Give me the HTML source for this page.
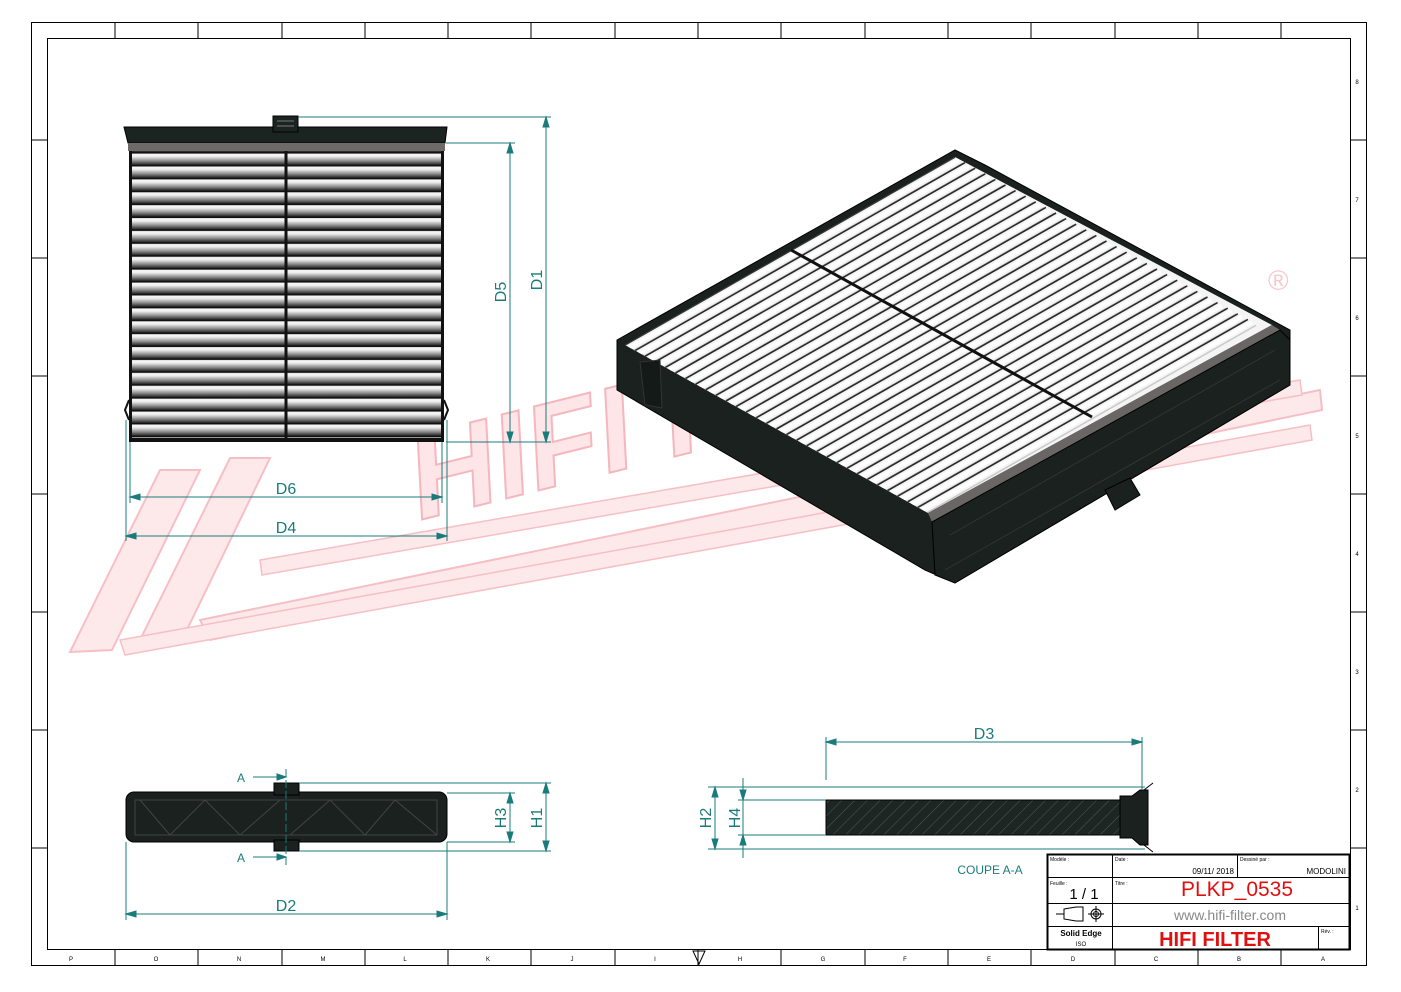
<!DOCTYPE html>
<html><head><meta charset="utf-8"><style>
html,body{margin:0;padding:0;background:#fff}
svg{display:block}
text{font-family:"Liberation Sans",sans-serif}
</style></head><body>
<svg width="1401" height="992" viewBox="0 0 1401 992" xmlns="http://www.w3.org/2000/svg">
<defs>
<linearGradient id="pl" x1="0" y1="0" x2="0" y2="1">
<stop offset="0" stop-color="#fff"/><stop offset="0.35" stop-color="#eee"/><stop offset="0.7" stop-color="#888"/><stop offset="1" stop-color="#222"/>
</linearGradient>
<pattern id="pleats" x="0" y="152" width="10" height="12.9" patternUnits="userSpaceOnUse">
<rect width="10" height="12.9" fill="url(#pl)"/><rect y="0" width="10" height="1.6" fill="#111"/>
</pattern>
<pattern id="hatch" width="9" height="9" patternUnits="userSpaceOnUse" patternTransform="rotate(45)">
<rect width="9" height="9" fill="#1e2623"/><line x1="0" y1="0" x2="0" y2="9" stroke="#555" stroke-width="1"/>
</pattern>
<g id="pleat">
<line x1="625" y1="345" x2="955" y2="157" stroke="#2a2a2a" stroke-width="1.6"/>
<line x1="629" y1="348" x2="959" y2="160" stroke="#fff" stroke-width="4"/>
<line x1="633" y1="351" x2="963" y2="163" stroke="#c9c9c9" stroke-width="1.5"/>
</g>
<clipPath id="pc"><polygon points="625,345 955,157 1272,325 928,513"/></clipPath>
</defs>
<rect width="1401" height="992" fill="#fff"/>

<!-- watermark -->
<g opacity="0.9">
<polygon points="70,652 160,470 200,470 112,650" fill="#fde6e8" stroke="#f6b9c0" stroke-width="2"/>
<polygon points="140,640 230,458 270,458 182,640" fill="#fde6e8" stroke="#f6b9c0" stroke-width="2"/>
<polygon points="200,620 1320,390 1322,410 210,640" fill="#fde6e8" stroke="#f6b9c0" stroke-width="2"/>
<polygon points="120,640 1310,425 1312,440 125,655" fill="#fde6e8" stroke="#f6b9c0" stroke-width="1.5"/>
<polygon points="260,560 1300,380 1302,395 262,575" fill="#fde6e8" stroke="#f6b9c0" stroke-width="1.5"/>
<text x="420" y="520" transform="rotate(-14 420 520)" font-size="120" font-weight="bold" font-style="italic" fill="#fde3e6" stroke="#f4b0b8" stroke-width="2">HIFI FILTER</text>
<text x="1268" y="290" font-size="28" fill="#f6c3c9">®</text>
</g>

<!-- border -->
<rect x="31.5" y="22.5" width="1335" height="943" fill="none" stroke="#000" stroke-width="1"/>
<rect x="47.5" y="38.5" width="1303" height="911" fill="none" stroke="#000" stroke-width="1"/>
<g stroke="#000" stroke-width="1">
<line x1="115" y1="22" x2="115" y2="38"/><line x1="198" y1="22" x2="198" y2="38"/><line x1="282" y1="22" x2="282" y2="38"/><line x1="365" y1="22" x2="365" y2="38"/><line x1="448" y1="22" x2="448" y2="38"/><line x1="531" y1="22" x2="531" y2="38"/><line x1="615" y1="22" x2="615" y2="38"/><line x1="698" y1="22" x2="698" y2="38"/><line x1="781" y1="22" x2="781" y2="38"/><line x1="865" y1="22" x2="865" y2="38"/><line x1="948" y1="22" x2="948" y2="38"/><line x1="1031" y1="22" x2="1031" y2="38"/><line x1="1115" y1="22" x2="1115" y2="38"/><line x1="1198" y1="22" x2="1198" y2="38"/><line x1="1281" y1="22" x2="1281" y2="38"/>
<line x1="115" y1="950" x2="115" y2="966"/><line x1="198" y1="950" x2="198" y2="966"/><line x1="282" y1="950" x2="282" y2="966"/><line x1="365" y1="950" x2="365" y2="966"/><line x1="448" y1="950" x2="448" y2="966"/><line x1="531" y1="950" x2="531" y2="966"/><line x1="615" y1="950" x2="615" y2="966"/><line x1="698" y1="950" x2="698" y2="966"/><line x1="781" y1="950" x2="781" y2="966"/><line x1="865" y1="950" x2="865" y2="966"/><line x1="948" y1="950" x2="948" y2="966"/><line x1="1031" y1="950" x2="1031" y2="966"/><line x1="1115" y1="950" x2="1115" y2="966"/><line x1="1198" y1="950" x2="1198" y2="966"/><line x1="1281" y1="950" x2="1281" y2="966"/>
<line x1="31" y1="140" x2="47" y2="140"/><line x1="31" y1="258" x2="47" y2="258"/><line x1="31" y1="376" x2="47" y2="376"/><line x1="31" y1="494" x2="47" y2="494"/><line x1="31" y1="612" x2="47" y2="612"/><line x1="31" y1="730" x2="47" y2="730"/><line x1="31" y1="848" x2="47" y2="848"/>
<line x1="1351" y1="140" x2="1367" y2="140"/><line x1="1351" y1="258" x2="1367" y2="258"/><line x1="1351" y1="376" x2="1367" y2="376"/><line x1="1351" y1="494" x2="1367" y2="494"/><line x1="1351" y1="612" x2="1367" y2="612"/><line x1="1351" y1="730" x2="1367" y2="730"/><line x1="1351" y1="848" x2="1367" y2="848"/>
</g>
<g font-size="6" fill="#000" text-anchor="middle">
<text x="71" y="961">P</text><text x="156" y="961">O</text><text x="239" y="961">N</text><text x="323" y="961">M</text><text x="405" y="961">L</text><text x="488" y="961">K</text><text x="572" y="961">J</text><text x="655" y="961">I</text><text x="740" y="961">H</text><text x="823" y="961">G</text><text x="905" y="961">F</text><text x="989" y="961">E</text><text x="1073" y="961">D</text><text x="1156" y="961">C</text><text x="1239" y="961">B</text><text x="1323" y="961">A</text>
<text x="1357" y="84">8</text><text x="1357" y="202">7</text><text x="1357" y="320">6</text><text x="1357" y="438">5</text><text x="1357" y="556">4</text><text x="1357" y="674">3</text><text x="1357" y="792">2</text><text x="1357" y="910">1</text>
</g>
<polygon points="693,951 705,951 699,964" fill="none" stroke="#000"/>

<!-- top view -->
<rect x="129" y="150" width="315" height="292" fill="url(#pleats)"/>
<rect x="129" y="150" width="3" height="292" fill="#111"/><rect x="441" y="150" width="3" height="292" fill="#111"/>
<rect x="284.5" y="150" width="3" height="292" fill="#111"/>
<rect x="129" y="438" width="315" height="4" fill="#111"/>
<path d="M124,127 L447,127 L445,143 L128,143 Z" fill="#1c2421" stroke="#000"/>
<rect x="128" y="143" width="317" height="8" fill="#6e6a6a"/>
<rect x="273" y="116" width="25" height="16" fill="#1c2421" stroke="#000"/>
<line x1="277" y1="121" x2="294" y2="121" stroke="#777"/><line x1="277" y1="126" x2="294" y2="126" stroke="#777"/>
<path d="M129,400 L125,410 L129,420 M444,400 L448,410 L444,420" stroke="#111" fill="none" stroke-width="2"/>

<!-- dims top view -->
<g stroke="#1b7b7b" stroke-width="1" fill="#1b7b7b">
<line x1="298" y1="117" x2="551" y2="117"/><line x1="446" y1="143" x2="515" y2="143"/><line x1="446" y1="442" x2="551" y2="442"/>
<line x1="546" y1="117" x2="546" y2="442"/><line x1="510" y1="143" x2="510" y2="442"/>
<polygon points="546,117 543,127 549,127"/><polygon points="546,442 543,432 549,432"/>
<polygon points="510,143 507,153 513,153"/><polygon points="510,442 507,432 513,432"/>
<line x1="126" y1="420" x2="126" y2="541"/><line x1="130" y1="442" x2="130" y2="503"/><line x1="442" y1="442" x2="442" y2="503"/><line x1="447" y1="420" x2="447" y2="541"/>
<line x1="130" y1="497" x2="442" y2="497"/><line x1="126" y1="536" x2="447" y2="536"/>
<polygon points="130,497 140,494 140,500"/><polygon points="442,497 432,494 432,500"/>
<polygon points="126,536 136,533 136,539"/><polygon points="447,536 437,533 437,539"/>
</g>
<g fill="#1b7b7b" font-size="16">
<text x="286" y="494" text-anchor="middle">D6</text><text x="286" y="533" text-anchor="middle">D4</text>
<text transform="translate(506,292) rotate(-90)" text-anchor="middle">D5</text>
<text transform="translate(542,280) rotate(-90)" text-anchor="middle">D1</text>
</g>

<!-- iso view -->
<polygon points="617,340 955,150 985,165 1290,330 1290,385 955,583 925,570 617,390" fill="#1a211f" stroke="#000"/>
<polygon points="625,345 955,157 1272,325 928,513" fill="#f4f4f4"/>
<g clip-path="url(#pc)">
<use href="#pleat"/>
<use href="#pleat" transform="translate(10.1,5.6)"/><use href="#pleat" transform="translate(20.2,11.2)"/><use href="#pleat" transform="translate(30.3,16.8)"/><use href="#pleat" transform="translate(40.4,22.4)"/><use href="#pleat" transform="translate(50.5,28)"/><use href="#pleat" transform="translate(60.6,33.6)"/><use href="#pleat" transform="translate(70.7,39.2)"/><use href="#pleat" transform="translate(80.8,44.8)"/><use href="#pleat" transform="translate(90.9,50.4)"/><use href="#pleat" transform="translate(101,56)"/><use href="#pleat" transform="translate(111.1,61.6)"/><use href="#pleat" transform="translate(121.2,67.2)"/><use href="#pleat" transform="translate(131.3,72.8)"/><use href="#pleat" transform="translate(141.4,78.4)"/><use href="#pleat" transform="translate(151.5,84)"/><use href="#pleat" transform="translate(161.6,89.6)"/><use href="#pleat" transform="translate(171.7,95.2)"/><use href="#pleat" transform="translate(181.8,100.8)"/><use href="#pleat" transform="translate(191.9,106.4)"/><use href="#pleat" transform="translate(202,112)"/><use href="#pleat" transform="translate(212.1,117.6)"/><use href="#pleat" transform="translate(222.2,123.2)"/><use href="#pleat" transform="translate(232.3,128.8)"/><use href="#pleat" transform="translate(242.4,134.4)"/><use href="#pleat" transform="translate(252.5,140)"/><use href="#pleat" transform="translate(262.6,145.6)"/><use href="#pleat" transform="translate(272.7,151.2)"/><use href="#pleat" transform="translate(282.8,156.8)"/><use href="#pleat" transform="translate(292.9,162.4)"/>
</g>
<line x1="791" y1="250" x2="1092" y2="417" stroke="#111" stroke-width="3"/>
<polygon points="928,513 1272,325 1280,330 932,522" fill="#6a6666"/>
<polygon points="932,522 1280,330 1290,340 1290,385 955,583 935,575" fill="#1a211f" stroke="#000"/>
<path d="M945,570 L1280,380 M950,535 L1275,350" stroke="#333" fill="none"/>
<polygon points="1105,490 1130,478 1140,495 1115,510" fill="#1a211f" stroke="#000"/>
<polygon points="640,362 660,360 662,408 645,405" fill="#141a18" stroke="#333"/>

<!-- side view -->
<rect x="126" y="792" width="321" height="50" rx="8" fill="#1a211f" stroke="#000"/>
<path d="M135,800 L437,800 L437,835 L135,835 Z" fill="none" stroke="#444"/>
<path d="M140,800 L170,835 L205,800 L240,835 L280,800 M290,835 L330,800 L365,835 L395,800 L437,835" stroke="#444" fill="none"/>
<rect x="274" y="783" width="25" height="12" fill="#1a211f" stroke="#000"/>
<rect x="274" y="840" width="25" height="11" fill="#1a211f" stroke="#000"/>
<g stroke="#1b7b7b" fill="#1b7b7b">
<line x1="286" y1="769" x2="286" y2="865" stroke-dasharray="8,3"/>
<line x1="253" y1="777" x2="286" y2="777"/><polygon points="286,777 277,774 277,780"/>
<line x1="253" y1="857" x2="286" y2="857"/><polygon points="286,857 277,854 277,860"/>
<line x1="299" y1="783" x2="551" y2="783"/><line x1="447" y1="793" x2="515" y2="793"/><line x1="447" y1="842" x2="515" y2="842"/><line x1="299" y1="851" x2="551" y2="851"/>
<line x1="510" y1="793" x2="510" y2="842"/><polygon points="510,793 507,803 513,803"/><polygon points="510,842 507,832 513,832"/>
<line x1="546" y1="783" x2="546" y2="851"/><polygon points="546,783 543,793 549,793"/><polygon points="546,851 543,841 549,841"/>
<line x1="126" y1="842" x2="126" y2="920"/><line x1="447" y1="842" x2="447" y2="920"/>
<line x1="126" y1="914" x2="447" y2="914"/><polygon points="126,914 136,911 136,917"/><polygon points="447,914 437,911 437,917"/>
</g>
<g fill="#1b7b7b" font-size="16">
<text x="241" y="782" font-size="12" text-anchor="middle">A</text><text x="241" y="862" font-size="12" text-anchor="middle">A</text>
<text transform="translate(506,818) rotate(-90)" text-anchor="middle">H3</text>
<text transform="translate(542,818) rotate(-90)" text-anchor="middle">H1</text>
<text x="286" y="911" text-anchor="middle">D2</text>
</g>

<!-- section -->
<rect x="826" y="800" width="294" height="35" fill="url(#hatch)" stroke="#000"/>
<path d="M1120,796 L1132,796 L1140,790 L1148,790 L1148,845 L1140,845 L1132,838 L1120,838 Z" fill="#1a211f" stroke="#000"/>
<path d="M1144,790 L1153,783 M1144,845 L1153,852" stroke="#000"/>
<g stroke="#1b7b7b" fill="#1b7b7b">
<line x1="826" y1="737" x2="826" y2="780"/><line x1="1142" y1="737" x2="1142" y2="790"/>
<line x1="826" y1="742" x2="1142" y2="742"/><polygon points="826,742 836,739 836,745"/><polygon points="1142,742 1132,739 1132,745"/>
<line x1="708" y1="787" x2="1145" y2="787"/><line x1="738" y1="800" x2="826" y2="800"/><line x1="738" y1="835" x2="826" y2="835"/><line x1="708" y1="849" x2="1145" y2="849"/>
<line x1="715" y1="787" x2="715" y2="849"/><polygon points="715,787 712,797 718,797"/><polygon points="715,849 712,839 718,839"/>
<line x1="743" y1="778" x2="743" y2="858"/><polygon points="743,800 740,790 746,790"/><polygon points="743,835 740,845 746,845"/>
</g>
<g fill="#1b7b7b" font-size="16">
<text x="984" y="739" text-anchor="middle">D3</text>
<text transform="translate(711,818) rotate(-90)" text-anchor="middle">H2</text>
<text transform="translate(740,818) rotate(-90)" text-anchor="middle">H4</text>
<text x="990" y="874" font-size="12" text-anchor="middle">COUPE A-A</text>
</g>

<!-- title block -->
<rect x="1047.5" y="854.5" width="302" height="95" fill="#fff" stroke="#000" stroke-width="2"/>
<g stroke="#000" stroke-width="1">
<line x1="1047" y1="877.5" x2="1350" y2="877.5"/><line x1="1047" y1="903.5" x2="1350" y2="903.5"/><line x1="1047" y1="926.5" x2="1350" y2="926.5"/>
<line x1="1112.5" y1="854" x2="1112.5" y2="950"/><line x1="1237.5" y1="854" x2="1237.5" y2="877"/><line x1="1318.5" y1="926" x2="1318.5" y2="950"/>
</g>
<g font-size="5" fill="#000">
<text x="1050" y="861">Modèle :</text><text x="1115" y="861">Date :</text><text x="1240" y="861">Dessiné par :</text>
<text x="1050" y="885">Feuille :</text><text x="1115" y="885">Titre :</text><text x="1321" y="933">Rév. :</text>
</g>
<text x="1234" y="874" font-size="8" text-anchor="end">09/11/ 2018</text>
<text x="1346" y="874" font-size="8" text-anchor="end">MODOLINI</text>
<text x="1084" y="899" font-size="15" text-anchor="middle">1 / 1</text>
<text x="1237" y="896" font-size="21" fill="#e01010" text-anchor="middle">PLKP_0535</text>
<text x="1230" y="920" font-size="14" fill="#888" text-anchor="middle">www.hifi-filter.com</text>
<text x="1215" y="946" font-size="20" font-weight="bold" fill="#e01010" text-anchor="middle">HIFI FILTER</text>
<text x="1081" y="936" font-size="8" font-weight="bold" text-anchor="middle">Solid Edge</text>
<text x="1081" y="946" font-size="6" text-anchor="middle">ISO</text>
<g stroke="#000" fill="none">
<path d="M1056,914 L1064,914 M1064,909 L1076,907 L1083,907 L1083,921 L1076,921 L1064,919 Z"/>
<circle cx="1096" cy="914" r="5"/><circle cx="1096" cy="914" r="2.5"/><line x1="1088" y1="914" x2="1104" y2="914"/><line x1="1096" y1="906" x2="1096" y2="922"/>
</g>
</svg>
</body></html>
